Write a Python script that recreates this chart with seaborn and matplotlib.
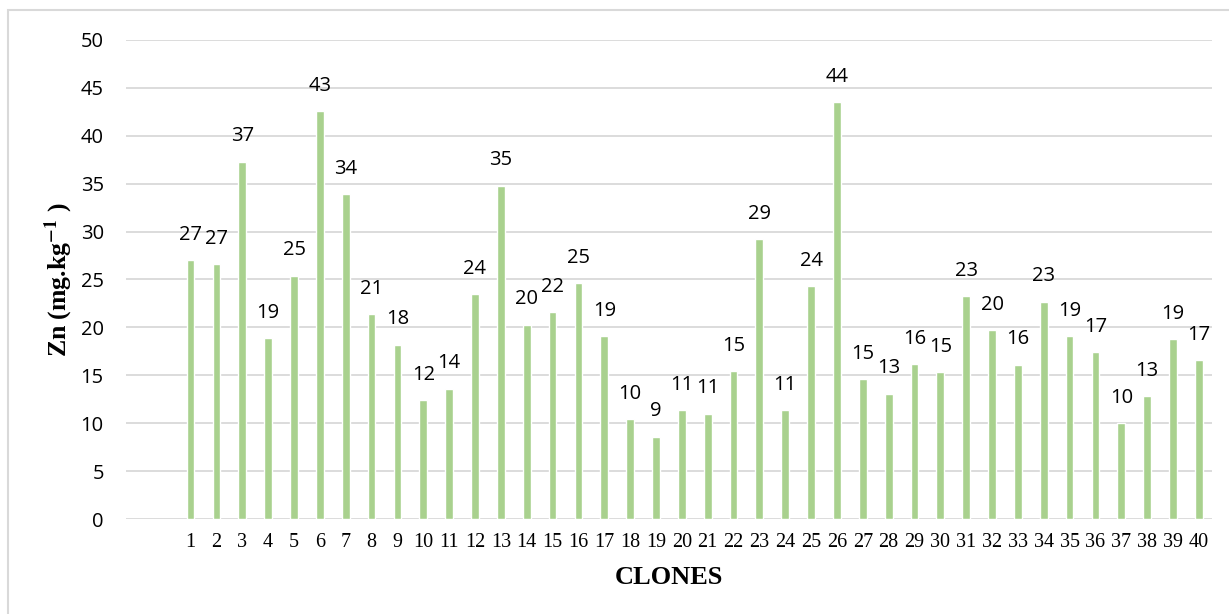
import matplotlib
matplotlib.use("Agg")
import matplotlib.pyplot as plt
import matplotlib.patches as mpatches
import seaborn as sns
import pandas as pd

clones = [str(i) for i in range(1, 41)]
zn = [27.0, 26.6, 37.3, 18.9, 25.4, 42.6, 33.9, 21.4, 18.2, 12.4,
      13.6, 23.5, 34.8, 20.3, 21.6, 24.6, 19.1, 10.4, 8.6, 11.4,
      11.0, 15.4, 29.2, 11.4, 24.3, 43.5, 14.6, 13.1, 16.2, 15.3,
      23.3, 19.7, 16.1, 22.7, 19.1, 17.4, 10.0, 12.8, 18.8, 16.6]
y_ticks = [0, 5, 10, 15, 20, 25, 30, 35, 40, 45, 50]

def main():
    df = pd.DataFrame({"clone": clones, "zn": zn})

    sns.set_theme(style="white")
    plt.rcParams["font.family"] = ["Open Sans", "DejaVu Sans"]
    plt.rcParams["mathtext.fontset"] = "stix"

    fig = plt.figure(figsize=(12.29, 6.14), dpi=100)
    ax = fig.add_axes([0.1025, 0.1547, 0.8835, 0.7802])

    sns.barplot(data=df, x="clone", y="zn", order=clones, color="#A9D18E",
                saturation=1, width=0.3, ax=ax, zorder=3)

    ax.bar_label(ax.containers[0], labels=[f"{v:.0f}" for v in zn],
                 padding=11, fontsize=14.5, color="black")

    ax.set_ylim(0, 50)
    ax.set_xlim(-2.5, 39.5)
    ax.set_yticks(y_ticks)
    ax.yaxis.grid(True, color="#D9D9D9", linewidth=1.3, zorder=0)
    ax.set_axisbelow(True)
    for s in ax.spines.values():
        s.set_visible(False)

    ax.tick_params(axis="y", length=0, pad=16, labelsize=14.5, labelcolor="black")
    ax.tick_params(axis="x", length=0, pad=10, labelsize=14.5, labelcolor="black")
    for lab in ax.get_xticklabels():
        lab.set_fontfamily(["Liberation Serif", "DejaVu Serif"])

    ax.set_xlabel("CLONES", fontsize=19, fontweight="bold", color="black",
                  family=["Liberation Serif", "DejaVu Serif"], labelpad=10)
    ax.set_ylabel("Zn (mg.kg$^{\\mathbf{-1}}$ )", fontsize=18.5, fontweight="bold",
                  color="black", family=["Liberation Serif", "DejaVu Serif"],
                  labelpad=4)

    # outer chart border (only left and top fall inside the image)
    fig.patches.append(mpatches.Rectangle((0.0065, -0.1), 1.2, 1.0837,
                                          transform=fig.transFigure,
                                          fill=False, edgecolor="#D9D9D9",
                                          linewidth=1.5))

    fig.savefig("out.png", dpi=100)


if __name__ == "__main__":
    main()
